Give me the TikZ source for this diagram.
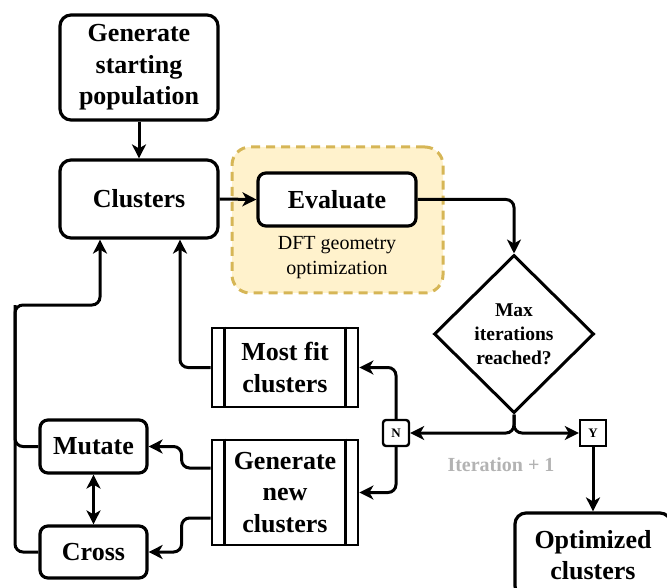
\documentclass[tikz,border=0pt]{standalone}
\usepackage{fontspec}
\setmainfont{Liberation Serif}
\usetikzlibrary{shapes.geometric,arrows.meta}
\definecolor{hlfill}{HTML}{FFF2CC}
\definecolor{hldraw}{HTML}{D6B656}
\definecolor{itgray}{HTML}{B3B3B3}
\tikzset{
  big/.style={font=\fontsize{26}{31.5}\selectfont\bfseries, align=center},
  rbox/.style={draw, line width=3.2pt, rounded corners=11pt, fill=white, big, inner sep=0pt},
  sbox/.style={draw, line width=3.2pt, rounded corners=8pt, fill=white, big, inner sep=0pt},
  pbox/.style={draw, line width=2.8pt, fill=white, big, inner sep=0pt},
  tag/.style={draw, line width=2.4pt, fill=white, font=\fontsize{13}{15}\selectfont\bfseries, minimum width=26pt, minimum height=26pt, inner sep=0pt},
  tip/.tip={Stealth[length=14pt,width=14pt,inset=4pt]},
  arr/.style={line width=3pt, -tip, rounded corners=8pt},
  dblarr/.style={line width=3.2pt, tip-tip},
  conn/.style={line width=3pt, rounded corners=8pt}
}
\begin{document}
\begin{tikzpicture}[x=1pt,y=-1pt]
\useasboundingbox (0,0) rectangle (667,588);
\clip (0,0) rectangle (667,588);
% highlight region
\node (hl) [draw=hldraw, fill=hlfill, line width=3pt, dash pattern=on 9pt off 6pt, rounded corners=18pt, minimum width=211pt, minimum height=146pt, inner sep=0pt] at (337.5,220) {};
\node (gen) [rbox, minimum width=158pt, minimum height=105pt] at (139,67.5) {Generate\\starting\\population};
\node (clus) [rbox, minimum width=158pt, minimum height=78pt] at (139,199) {Clusters};
\node (eval) [sbox, minimum width=158pt, minimum height=53pt] at (337,199.5) {Evaluate};
\node (dft) [font=\fontsize{20}{25}\selectfont, align=center] at (337,258) {DFT geometry\\optimization};
\node (dia) [diamond, draw, line width=3pt, fill=white, minimum width=160pt, minimum height=158pt, inner sep=0pt, align=center, font=\fontsize{19.5}{24}\selectfont\bfseries] at (514,334) {Max\\iterations\\reached?};
\node (mf) [pbox, minimum width=146pt, minimum height=79pt] at (285,367.5) {Most fit\\clusters};
\node (gn) [pbox, minimum width=146pt, minimum height=105pt] at (285,492.5) {Generate\\new\\clusters};
\draw[line width=2.6pt] ([xshift=14pt]mf.north west) -- ([xshift=14pt]mf.south west);
\draw[line width=2.6pt] ([xshift=-14pt]mf.north east) -- ([xshift=-14pt]mf.south east);
\draw[line width=2.6pt] ([xshift=14pt]gn.north west) -- ([xshift=14pt]gn.south west);
\draw[line width=2.6pt] ([xshift=-14pt]gn.north east) -- ([xshift=-14pt]gn.south east);
\node (mut) [sbox, minimum width=107pt, minimum height=53pt] at (93.5,446.5) {Mutate};
\node (cro) [sbox, minimum width=107pt, minimum height=52pt] at (93.5,552) {Cross};
\node (N) [tag, rounded corners=3pt] at (396,433) {N};
\node (Y) [tag] at (593,433) {Y};
\node (opt) [rbox, minimum width=156pt, minimum height=84pt] at (593,555) {Optimized\\clusters};
\node (it) [font=\fontsize{20}{24}\selectfont\bfseries, text=itgray] at (501,465) {Iteration + 1};
\coordinate (lc) at (15,305);
% connectors
\draw[arr] (gen) -- (clus);
\draw[arr] (clus.east) -- (eval.west);
\draw[arr] (eval.east) -| (dia.north);
\draw[arr] (dia.south) |- (N.east);
\draw[arr] (dia.south) |- (Y.west);
\draw[arr] (N.north) |- (mf.east);
\draw[arr] (N.south) |- (gn.east);
\draw[arr] (Y.south) -- (opt.north);
\draw[arr] (mf.west) -| ([xshift=41pt]clus.south);
\draw[arr] (cro.west) -| (lc) -| ([xshift=-39pt]clus.south);
\draw[conn] (mut.west) -| (lc);
\draw[arr] ([yshift=24.5pt]gn.west) -- ++(-29,0) |- (mut.east);
\draw[arr] ([yshift=-25.5pt]gn.west) -- ++(-29,0) |- (cro.east);
\draw[dblarr] (mut.south) -- (cro.north);
\end{tikzpicture}
\end{document}
